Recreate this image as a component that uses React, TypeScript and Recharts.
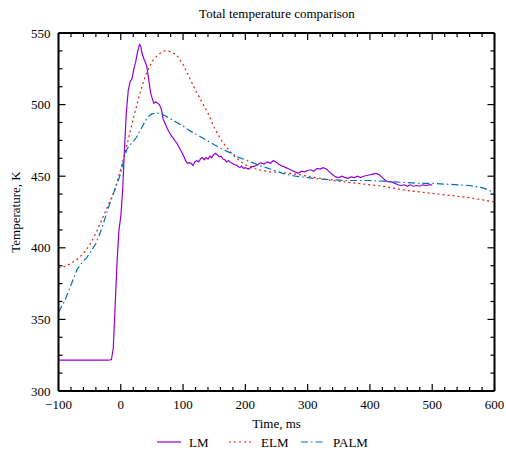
import { LineChart, Line, XAxis, YAxis, Label, ReferenceLine } from "recharts";

// time (ms), temperature (K)
const lmPoints: [number, number][] = [
  [-100, 321.5], [-50, 321.5], [-20, 321.5], [-15, 322], [-12, 330], [-9, 360], [-6, 390], [-3, 412],
  [0, 422], [3, 440], [6, 470], [9, 495], [12, 510], [15, 516], [18, 518], [21, 525], [24, 530],
  [27, 537], [30, 542], [32, 541], [34, 536], [37, 532], [40, 529], [42, 526], [44, 520], [46, 514],
  [48, 508], [50, 505], [53, 501], [56, 502], [59, 501], [62, 500], [65, 497], [68, 490], [71, 487],
  [75, 483], [80, 479], [85, 476], [90, 473], [95, 469], [100, 465], [104, 461], [107, 459],
  [110, 459.5], [113, 459], [116, 457.5], [119, 460], [122, 461], [125, 460], [128, 462], [131, 463],
  [134, 461.5], [137, 463], [140, 462], [143, 464], [146, 463], [149, 465], [152, 466], [155, 465],
  [158, 463.5], [161, 464], [164, 462], [167, 461.5], [170, 460], [173, 461], [176, 459.5], [179, 459],
  [182, 458], [185, 458], [188, 457], [191, 456], [194, 457], [197, 455.5], [200, 456], [205, 455],
  [210, 456.5], [215, 457], [220, 458], [225, 459.5], [230, 458.5], [235, 460], [240, 459], [245, 461],
  [250, 459.5], [255, 458], [260, 457], [265, 456], [270, 455], [275, 454], [280, 453], [285, 452],
  [290, 453.5], [295, 453], [300, 454], [305, 454.5], [310, 453.5], [315, 455.5], [320, 455], [325, 456],
  [330, 455], [335, 453], [340, 451], [345, 449.5], [350, 449], [355, 450], [360, 449], [365, 448.5],
  [370, 449.5], [375, 449], [380, 450], [385, 449], [390, 450], [395, 450.5], [400, 451], [405, 451.5],
  [410, 452], [415, 451], [420, 449], [425, 447], [430, 446], [435, 446], [440, 445], [445, 444],
  [450, 443.5], [455, 444], [460, 443], [465, 444], [470, 443], [475, 443.5], [480, 443], [485, 444],
  [490, 443.5], [495, 444], [500, 444],
];

const elmPoints: [number, number][] = [
  [-100, 386], [-90, 387], [-80, 389], [-70, 392], [-60, 396], [-50, 402], [-40, 410], [-30, 420],
  [-20, 430], [-10, 440], [0, 455], [10, 472], [20, 490], [30, 507], [40, 521], [50, 530], [60, 535],
  [70, 537.5], [80, 537], [90, 534.5], [100, 528], [110, 519], [120, 510], [130, 502], [140, 494],
  [150, 484], [160, 476], [170, 470], [180, 465], [190, 461], [200, 458], [220, 454.5], [240, 453],
  [260, 452.5], [280, 451.5], [300, 450], [320, 448.5], [340, 447], [360, 446], [380, 445], [400, 444],
  [420, 443], [440, 441.5], [460, 440], [480, 439], [500, 438], [520, 437], [540, 436], [560, 435],
  [580, 433.5], [600, 432],
];

const palmPoints: [number, number][] = [
  [-100, 355], [-90, 363], [-80, 374], [-70, 385], [-60, 391], [-55, 393], [-50, 396], [-40, 403],
  [-30, 414], [-20, 428], [-10, 440], [0, 452], [5, 462], [10, 469], [15, 472], [20, 474], [25, 477],
  [30, 481], [35, 485], [40, 489], [45, 492], [50, 493.5], [55, 494], [60, 494], [70, 492.5], [80, 490],
  [90, 487.5], [100, 485], [110, 482], [120, 479.5], [130, 477], [140, 474.5], [150, 472], [160, 469.5],
  [170, 467.5], [180, 465.5], [190, 463], [200, 461.5], [220, 458], [240, 455], [260, 452], [280, 450],
  [300, 449], [320, 448], [340, 447.5], [360, 447], [380, 447], [400, 447], [420, 446.5], [440, 446],
  [460, 445.5], [480, 445], [500, 445], [520, 444.5], [540, 444], [560, 443.5], [580, 442], [590, 440.5],
  [600, 438],
];

const xMajor = [-100, 0, 100, 200, 300, 400, 500, 600];
const xTicks = [
  -100, -80, -60, -40, -20, 0, 20, 40, 60, 80, 100, 120, 140, 160, 180, 200, 220, 240, 260, 280, 300,
  320, 340, 360, 380, 400, 420, 440, 460, 480, 500, 520, 540, 560, 580, 600,
];
const yMajor = [300, 350, 400, 450, 500, 550];
const yTicks = [
  300, 312.5, 325, 337.5, 350, 362.5, 375, 387.5, 400, 412.5, 425, 437.5, 450, 462.5, 475, 487.5, 500,
  512.5, 525, 537.5, 550,
];

const series = [
  { name: "LM", points: lmPoints, color: "#9400d3", dash: undefined },
  { name: "ELM", points: elmPoints, color: "#e51e10", dash: "2 3" },
  { name: "PALM", points: palmPoints, color: "#0072b2", dash: "7 3 1.5 3" },
];

const toRows = (pts: [number, number][]) => pts.map(([t, v]) => ({ t, v }));
const fmt = (v: number) => (v < 0 ? `\u2212${Math.abs(v)}` : `${v}`);

const font = '"Liberation Serif", "Times New Roman", serif';
const W = 506;
const H = 455;
const margin = { top: 33, right: 11.5, bottom: 0, left: 0 };
const plotTop = margin.top;
const plotRight = W - margin.right;
// recharts hands the tick renderer a point tickSize (6) + tickMargin (2) away from the axis
const GAP = 8;

// bottom ticks (with labels) and the mirrored ticks on the top frame
const XTick = (props: any) => {
  const { x, y, payload } = props;
  const major = xMajor.includes(payload.value);
  const len = major ? 7 : 4;
  const ay = y - GAP;
  return (
    <g>
      <line x1={x} x2={x} y1={ay} y2={ay - len} stroke="#000" strokeWidth={1.2} />
      <line x1={x} x2={x} y1={plotTop} y2={plotTop + len} stroke="#000" strokeWidth={1.2} />
      {major && (
        <text x={x} y={ay + 18} textAnchor="middle" fontSize={13} fill="#000">
          {fmt(payload.value)}
        </text>
      )}
    </g>
  );
};

// left ticks (with labels) and the mirrored ticks on the right frame
const YTick = (props: any) => {
  const { x, y, payload } = props;
  const major = yMajor.includes(payload.value);
  const len = major ? 7 : 4;
  const ax = x + GAP;
  return (
    <g>
      <line x1={ax} x2={ax + len} y1={y} y2={y} stroke="#000" strokeWidth={1.2} />
      <line x1={plotRight} x2={plotRight - len} y1={y} y2={y} stroke="#000" strokeWidth={1.2} />
      {major && (
        <text x={ax - 8} y={y + 4.5} textAnchor="end" fontSize={13} fill="#000">
          {payload.value}
        </text>
      )}
    </g>
  );
};

const axisLine = { stroke: "#000", strokeWidth: 2 };

export default function App() {
  return (
    <div style={{ position: "absolute", left: 0, top: 0, width: W, height: H, fontFamily: font }}>
      <svg width={W} height={24} style={{ position: "absolute", left: 0, top: 0 }} fontFamily={font}>
        <text x={277} y={17.5} textAnchor="middle" fontSize={13} fill="#000">
          Total temperature comparison
        </text>
      </svg>
      <LineChart width={W} height={H} margin={margin}>
        <XAxis
          dataKey="t"
          type="number"
          domain={[-100, 600]}
          ticks={xTicks}
          interval={0}
          height={64}
          axisLine={axisLine}
          tickLine={false}
          tick={XTick}
        >
          <Label value="Time, ms" position="insideBottom" offset={27.5} fontSize={13} fill="#000" />
        </XAxis>
        <YAxis
          type="number"
          domain={[300, 550]}
          ticks={yTicks}
          interval={0}
          width={58.5}
          axisLine={axisLine}
          tickLine={false}
          tick={YTick}
        >
          <Label
            value="Temperature, K"
            angle={-90}
            position="insideLeft"
            offset={15.5}
            fontSize={13}
            fill="#000"
            style={{ textAnchor: "middle" }}
          />
        </YAxis>
        <ReferenceLine y={550} stroke="#000" strokeWidth={2} />
        <ReferenceLine x={600} stroke="#000" strokeWidth={2} />
        {series.map((s) => (
          <Line
            key={s.name}
            data={toRows(s.points)}
            dataKey="v"
            name={s.name}
            type="linear"
            stroke={s.color}
            strokeWidth={1.2}
            strokeDasharray={s.dash}
            dot={false}
            isAnimationActive={false}
          />
        ))}
      </LineChart>
      <svg width={W} height={25} style={{ position: "absolute", left: 0, top: 430 }} fontFamily={font}>
        {series.map((s, i) => {
          const lx = [157, 229, 301][i];
          return (
            <g key={s.name}>
              <line x1={lx} x2={lx + 24} y1={12} y2={12} stroke={s.color} strokeWidth={1.2} strokeDasharray={s.dash} />
              <text x={lx + 32} y={16.5} fontSize={13} fill="#000">
                {s.name}
              </text>
            </g>
          );
        })}
      </svg>
    </div>
  );
}
